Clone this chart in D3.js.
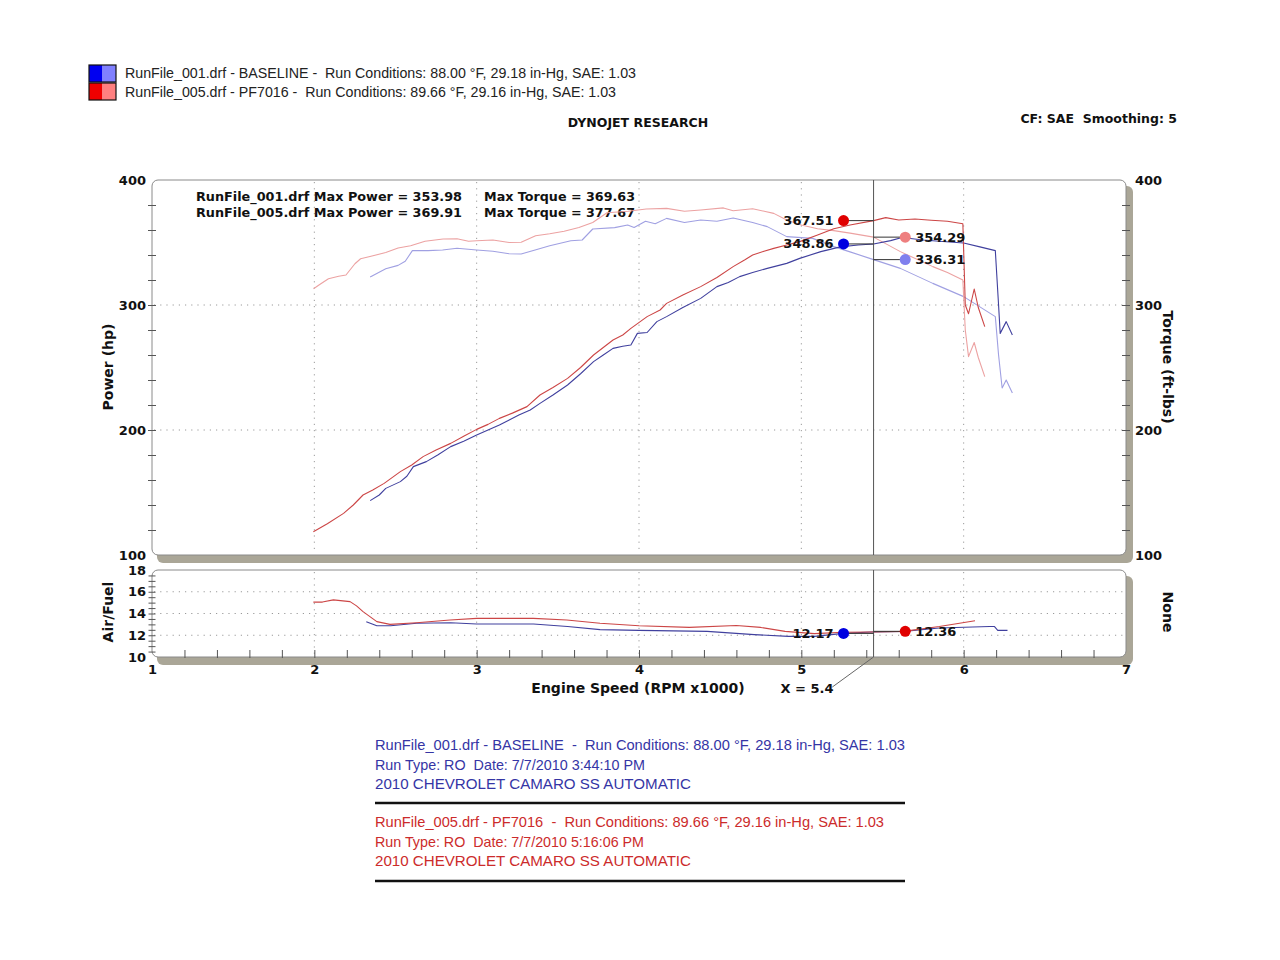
<!DOCTYPE html>
<html><head><meta charset="utf-8">
<script src="https://cdn.jsdelivr.net/npm/d3@7"></script>
<style>
body{margin:0;background:#fff}
svg text{font-family:"DejaVu Sans",Verdana,sans-serif; white-space:pre}
.arial{font-family:"Liberation Sans",Arial,sans-serif !important}
</style>
</head><body>
<svg id="c" width="1280" height="960"></svg>
<script>
// ---------------- DATA ----------------
const rpmTicks = [1, 2, 3, 4, 5, 6, 7];
const powerTicks = [100, 200, 300, 400];
const afTicks = [10, 12, 14, 16, 18];

// [rpm x1000, hp]
const powerPF7016 = [[1.994,118.6],[2.08,125],[2.18,133.3],[2.24,140],[2.30,148],[2.36,152],[2.43,157.3],[2.53,166.7],[2.60,172],[2.67,178.7],[2.75,184],[2.84,189.3],[2.92,195],[3.0,200.5],[3.07,204.5],[3.14,209.3],[3.22,213.5],[3.31,218.7],[3.39,228],[3.47,234],[3.56,241.3],[3.64,250],[3.72,260],[3.78,266],[3.84,272],[3.90,276],[3.95,281.3],[4.05,290.7],[4.13,296],[4.17,301.3],[4.27,308],[4.38,314.7],[4.48,322],[4.58,330.7],[4.65,336],[4.70,340],[4.77,343],[4.83,345.3],[4.91,348],[4.99,350.7],[5.1,356],[5.2,361],[5.3,364],[5.445,367.51],[5.52,369.91],[5.6,368],[5.7,368.8],[5.8,367.8],[5.9,367],[5.995,365],[6.01,300],[6.03,293],[6.065,312.8],[6.09,298],[6.13,282.7]];
const powerBaseline = [[2.344,143.5],[2.40,148],[2.44,153.3],[2.53,158.7],[2.57,163],[2.61,170.7],[2.69,174.7],[2.76,180],[2.84,186.7],[2.92,191],[3.0,196],[3.07,200],[3.14,204],[3.26,212],[3.33,216],[3.39,221.3],[3.47,228],[3.56,236],[3.64,245],[3.72,254.7],[3.78,260],[3.84,265.3],[3.90,267],[3.95,268],[3.99,277.3],[4.05,278],[4.11,286.7],[4.17,290.7],[4.27,298],[4.38,305.3],[4.48,314.7],[4.55,318],[4.62,322.7],[4.70,326],[4.79,329.3],[4.91,333.3],[4.99,337.3],[5.12,342.7],[5.24,346.5],[5.35,348],[5.445,348.86],[5.55,351.5],[5.62,353.98],[5.75,352],[5.85,351],[6.0,349.6],[6.1,346.5],[6.195,343.5],[6.215,300],[6.225,277.3],[6.262,286.7],[6.30,276]];
// [rpm x1000, ft-lbs]
const torquePF7016 = [[1.995,313],[2.04,317],[2.087,321],[2.15,323],[2.195,324],[2.25,333],[2.285,337],[2.349,339],[2.44,342],[2.516,345.6],[2.593,347.4],[2.682,351],[2.793,352.8],[2.879,353],[2.95,351],[3.0,351.4],[3.1,352],[3.2,350],[3.274,350.2],[3.363,355.4],[3.45,357],[3.539,359],[3.63,362],[3.715,366],[3.803,373.8],[3.933,375],[4.044,376.8],[4.17,377.3],[4.28,375],[4.38,376],[4.52,377.67],[4.58,375.4],[4.70,377],[4.83,373.3],[4.91,368],[5.0,364],[5.1,361],[5.2,359.5],[5.3,357.5],[5.445,354.29],[5.61,342.7],[5.81,330.7],[5.9,326],[5.995,320],[6.01,280],[6.03,258.7],[6.065,270],[6.09,258],[6.13,242.7]];
const torqueBaseline = [[2.344,322.4],[2.44,329],[2.516,331.7],[2.56,335],[2.604,343.5],[2.70,343.5],[2.79,344],[2.879,345.4],[3.0,344],[3.1,343],[3.2,341],[3.274,340.8],[3.36,344],[3.45,347.4],[3.58,351.4],[3.65,352],[3.715,360.8],[3.85,361.9],[3.93,364],[3.97,362],[4.04,367],[4.10,365],[4.17,369.3],[4.28,366],[4.38,368],[4.48,367],[4.58,369.63],[4.70,366],[4.79,362.7],[4.91,354.7],[5.07,353.3],[5.2,346.7],[5.3,342.5],[5.445,336.31],[5.61,329.3],[5.81,317.3],[6.0,306.7],[6.195,290.7],[6.215,260],[6.237,233.6],[6.262,240],[6.30,229.6]];
// [rpm x1000, air/fuel ratio]
const afrPF7016 = [[1.994,15.05],[2.05,15.05],[2.117,15.25],[2.22,15.09],[2.26,14.7],[2.30,14.17],[2.385,13.25],[2.466,13.0],[2.63,13.15],[2.836,13.4],[3.0,13.55],[3.35,13.55],[3.555,13.4],[3.76,13.1],[4.0,12.87],[4.31,12.72],[4.6,12.9],[4.75,12.72],[4.9,12.36],[5.08,12.15],[5.26,12.27],[5.43,12.3],[5.63,12.36],[5.85,12.8],[6.07,13.34]];
const afrBaseline = [[2.32,13.25],[2.385,12.88],[2.47,12.88],[2.63,13.1],[2.84,13.15],[3.0,13.03],[3.35,13.03],[3.56,12.8],[3.76,12.52],[4.0,12.45],[4.42,12.36],[4.71,12.06],[4.92,11.9],[5.08,11.9],[5.26,12.17],[5.43,12.3],[5.63,12.36],[5.85,12.66],[6.16,12.8],[6.19,12.8],[6.21,12.45],[6.27,12.45]];

const cursorRpm = 5.445;
const cursorLabel = "X = 5.4";
// cursor readouts: [label rpm, value, text, colour]
const powerReadouts = [[5.26, 367.51, "367.51", "#e00000"], [5.26, 348.86, "348.86", "#0000e0"]];
const torqueReadouts = [[5.64, 354.29, "354.29", "#ee7f7f"], [5.64, 336.31, "336.31", "#8080ee"]];
const afrReadouts = [[5.26, 12.17, "12.17", "#0000e0", "left"], [5.64, 12.36, "12.36", "#e00000", "right"]];

const legendLines = [
  "RunFile_001.drf - BASELINE -  Run Conditions: 88.00 °F, 29.18 in-Hg, SAE: 1.03",
  "RunFile_005.drf - PF7016 -  Run Conditions: 89.66 °F, 29.16 in-Hg, SAE: 1.03"];
const maxLines = [
  ["RunFile_001.drf Max Power = 353.98", "Max Torque = 369.63"],
  ["RunFile_005.drf Max Power = 369.91", "Max Torque = 377.67"]];
const infoBaseline = ["RunFile_001.drf - BASELINE  -  Run Conditions: 88.00 °F, 29.18 in-Hg, SAE: 1.03",
  "Run Type: RO  Date: 7/7/2010 3:44:10 PM", "2010 CHEVROLET CAMARO SS AUTOMATIC"];
const infoPF = ["RunFile_005.drf - PF7016  -  Run Conditions: 89.66 °F, 29.16 in-Hg, SAE: 1.03",
  "Run Type: RO  Date: 7/7/2010 5:16:06 PM", "2010 CHEVROLET CAMARO SS AUTOMATIC"];

// ---------------- DRAW ----------------
const svg = d3.select("#c");
svg.append("rect").attr("width",1280).attr("height",960).attr("fill","#fff");

const X0 = 152, X1 = 1126;
const x = d3.scaleLinear().domain([1,7]).range([X0, X1]);
const yP = d3.scaleLinear().domain([100,400]).range([555,180]);
const yA = d3.scaleLinear().domain([10,18]).range([657,570]);

const C = {redPow:"#cc4646", redTq:"#eca2a2", bluPow:"#40409e", bluTq:"#a0a0e2"};

function panel(y0, y1) {
  svg.append("rect").attr("x", X0+5).attr("y", y0+6).attr("width", X1-X0+2).attr("height", y1-y0+2)
    .attr("rx",6).attr("fill","#aaa697");
  svg.append("rect").attr("x", X0).attr("y", y0).attr("width", X1-X0).attr("height", y1-y0)
    .attr("rx",6).attr("fill","#fff").attr("stroke","#8a8a8a").attr("stroke-width",1);
}
panel(yP.range()[1], yP.range()[0]);
panel(yA.range()[1], yA.range()[0]);

const grid = svg.append("g").attr("stroke","#9a9a9a").attr("stroke-width",1).attr("stroke-dasharray","1.2,5");
[2,3,4,5,6].forEach(r=>{
  grid.append("line").attr("x1",x(r)).attr("x2",x(r)).attr("y1",yP(400)+2).attr("y2",yP(100)-1);
  grid.append("line").attr("x1",x(r)).attr("x2",x(r)).attr("y1",yA(18)+2).attr("y2",yA(10)-1);
});
[200,300].forEach(v=> grid.append("line").attr("x1",X0+2).attr("x2",X1-2).attr("y1",yP(v)).attr("y2",yP(v)));
[12,14,16].forEach(v=> grid.append("line").attr("x1",X0+2).attr("x2",X1-2).attr("y1",yA(v)).attr("y2",yA(v)));

function tickAxis(axis, tx, ty) {
  const g = svg.append("g").attr("transform",`translate(${tx},${ty})`).call(axis);
  g.select(".domain").remove();
  g.selectAll("text").remove();
  g.selectAll("line").attr("stroke","#555");
  return g;
}
tickAxis(d3.axisLeft(yP).tickValues(d3.range(120,400,20)).tickSize(8), X0+4, 0);
tickAxis(d3.axisLeft(yP).tickValues(d3.range(120,400,20)).tickSize(8), X1+4, 0);
tickAxis(d3.axisLeft(yA).tickValues(d3.range(10.5,18,0.5)).tickSize(7), X0+3.5, 0);
tickAxis(d3.axisTop(x).tickValues(d3.range(1.2,7,0.2)).tickSize(8), 0, yA(10)+1);

function labelAxis(axis, tx, ty, size) {
  const g = svg.append("g").attr("transform",`translate(${tx},${ty})`).call(axis);
  g.select(".domain").remove();
  g.selectAll("line").remove();
  g.selectAll("text").attr("font-family","DejaVu Sans").attr("font-weight","bold")
    .attr("font-size",size).attr("fill","#111");
  return g;
}
labelAxis(d3.axisLeft(yP).tickValues(powerTicks).tickFormat(d3.format("d")).tickSize(0).tickPadding(0), X0-6, 0, 13);
labelAxis(d3.axisRight(yP).tickValues(powerTicks).tickFormat(d3.format("d")).tickSize(0).tickPadding(0), X1+9, 0, 13);
labelAxis(d3.axisLeft(yA).tickValues(afTicks).tickFormat(d3.format("d")).tickSize(0).tickPadding(0), X0-6, 0, 13);
labelAxis(d3.axisBottom(x).tickValues(rpmTicks).tickFormat(d3.format("d")).tickSize(0).tickPadding(0), 0, 665, 13);

function txt(str, tx, ty, opt={}) {
  const t = svg.append("text").attr("x",tx).attr("y",ty).text(str)
    .attr("xml:space","preserve")
    .attr("font-size",opt.size||13).attr("font-weight",opt.weight||"bold")
    .attr("fill",opt.fill||"#111").attr("text-anchor",opt.anchor||"start");
  if (opt.rot) t.attr("transform",`rotate(${opt.rot},${tx},${ty})`);
  if (opt.cls) t.attr("class",opt.cls);
  if (opt.len) t.attr("textLength",opt.len).attr("lengthAdjust","spacingAndGlyphs");
  if (opt.baseline) t.attr("dominant-baseline",opt.baseline);
  return t;
}
txt("Power (hp)", 108, 367, {rot:-90, anchor:"middle", size:14, baseline:"central"});
txt("Torque (ft-lbs)", 1168, 367, {rot:90, anchor:"middle", size:14, baseline:"central"});
txt("Air/Fuel", 108, 612, {rot:-90, anchor:"middle", size:14, baseline:"central"});
txt("None", 1168, 612, {rot:90, anchor:"middle", size:14, baseline:"central"});
txt("Engine Speed (RPM x1000)", 638, 693, {anchor:"middle", size:14});
txt("DYNOJET RESEARCH", 638, 127, {anchor:"middle", size:12.5});
txt("CF: SAE  Smoothing: 5", 1177, 123, {anchor:"end", size:12.5});

maxLines.forEach((l,i)=>{
  txt(l[0], 196, 201 + i*15.5, {size:12.5, len:266});
  txt(l[1], 484, 201 + i*15.5, {size:12.5, len:151});
});

const line = d3.line().x(d=>x(d[0]));
function curve(data, yScale, color, w) {
  svg.append("path").datum(data).attr("fill","none").attr("stroke",color).attr("stroke-width",w||1.1)
    .attr("stroke-linejoin","round")
    .attr("d", line.y(d=>yScale(d[1]))(data));
}
curve(torqueBaseline, yP, C.bluTq);
curve(torquePF7016, yP, C.redTq);
curve(powerBaseline, yP, C.bluPow);
curve(powerPF7016, yP, C.redPow);
curve(afrBaseline, yA, C.bluPow);
curve(afrPF7016, yA, C.redPow);

const cx = x(cursorRpm);
svg.append("line").attr("x1",cx).attr("x2",cx).attr("y1",yP(400)).attr("y2",yP(100)).attr("stroke","#555").attr("stroke-width",1);
svg.append("line").attr("x1",cx).attr("x2",cx).attr("y1",yA(18)).attr("y2",yA(10)).attr("stroke","#555").attr("stroke-width",1);
svg.append("line").attr("x1",x(5.0)+31).attr("y1",687).attr("x2",cx).attr("y2",yA(10)).attr("stroke","#666").attr("stroke-width",1);
txt(cursorLabel, 807, 693, {anchor:"middle", size:13});

function readout(r, yScale, side) {
  const px = x(r[0]), py = yScale(r[1]);
  svg.append("line").attr("x1",px).attr("x2",cx).attr("y1",py).attr("y2",py).attr("stroke","#333").attr("stroke-width",1);
  svg.append("circle").attr("cx",px).attr("cy",py).attr("r",5.5).attr("fill",r[3]);
  if (side==="left") txt(r[2], px-10, py, {anchor:"end", size:13, baseline:"central"});
  else txt(r[2], px+10, py, {anchor:"start", size:13, baseline:"central"});
}
powerReadouts.forEach(r=>readout(r, yP, "left"));
torqueReadouts.forEach(r=>readout(r, yP, "right"));
afrReadouts.forEach(r=>readout(r, yA, r[4]));

const swCols = [["#0000f0","#8080ff"],["#f00000","#ff8080"]];
legendLines.forEach((l,i)=>{
  const y0 = 65 + i*18;
  svg.append("rect").attr("x",89).attr("y",y0).attr("width",13.5).attr("height",17).attr("fill",swCols[i][0]);
  svg.append("rect").attr("x",102.5).attr("y",y0).attr("width",13.5).attr("height",17).attr("fill",swCols[i][1]);
  svg.append("rect").attr("x",89).attr("y",y0).attr("width",27).attr("height",17).attr("fill","none").attr("stroke","#111").attr("stroke-width",1.2);
  txt(l, 125, 78 + i*19, {weight:"normal", size:14, fill:"#222", cls:"arial", len: i===0?511:491});
});

const infoLens = [[530,270,316],[509,269,316]];
infoBaseline.forEach((l,i)=> txt(l, 375, 750 + i*19.5, {weight:"normal", size:14.5, fill:"#3535a5", cls:"arial", len:infoLens[0][i]}));
infoPF.forEach((l,i)=> txt(l, 375, 827 + i*19.5, {weight:"normal", size:14.5, fill:"#cc2b2b", cls:"arial", len:infoLens[1][i]}));
[803, 881].forEach(yy=> svg.append("line").attr("x1",375).attr("x2",905).attr("y1",yy).attr("y2",yy).attr("stroke","#111").attr("stroke-width",2.5));
</script>
</body></html>
